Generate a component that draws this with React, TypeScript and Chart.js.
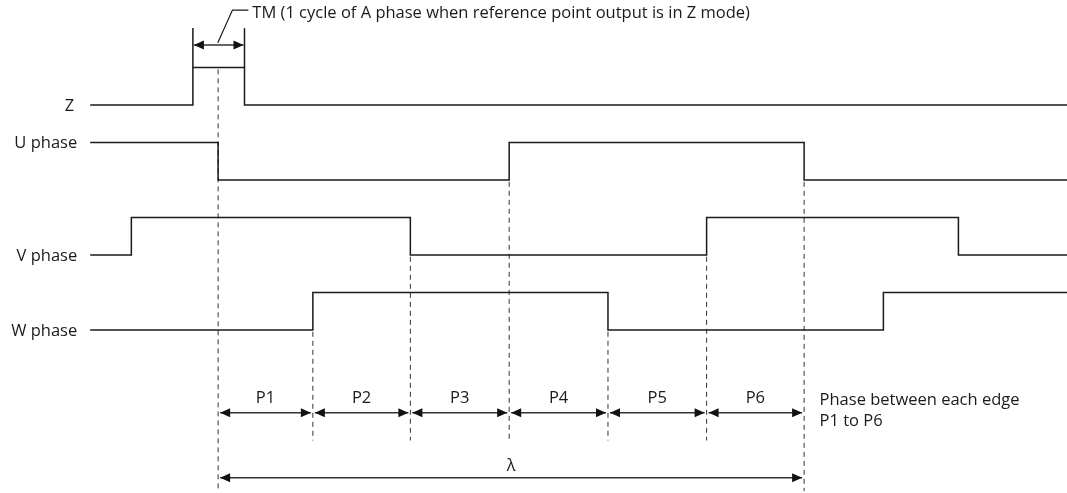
import React, { useEffect, useRef } from "react";
import { Chart, registerables } from "chart.js";
Chart.register(...registerables);

// Axis bounds (x in electrical degrees, y in signal level units)
const X_MIN = -134;
const X_MAX = 521.5;
const Y_MIN = -4.35;
const Y_MAX = 8.8;

// Signals
const signalNames = ["Z", "U phase", "V phase", "W phase"];
const signalBase = [6, 4, 2, 0];
const signalStart = [0, 1, 0, 0];
const signalEdges = [
  [-15.5, 16.2],
  [0, 178.8, 360],
  [-53.3, 118.1, 300.1, 454.8],
  [58.2, 239.5, 408.7],
];
const labelLevel = [6, 5, 2, 0];
const labelGap = [16, 13, 13, 13];
const SIGNAL_FROM = -78.6;
const SIGNAL_TO = 521.5;

// Edge reference (dashed) lines
const edgeX = [0, 58.2, 118.1, 178.8, 239.5, 300.1, 360];
const edgeTop = [6.95, -0.05, 1.95, 3.95, -0.05, 1.95, 3.95];
const edgeBottom = [-4.3, -2.95, -2.95, -2.95, -2.95, -2.95, -4.3];

// Phase arrows
const phaseLabels = ["P1", "P2", "P3", "P4", "P5", "P6"];
const PHASE_ROW = -2.21;
const PHASE_LABEL_ROW = -1.83;
const LAMBDA_ROW = -3.94;
const LAMBDA_LABEL_ROW = -3.63;
const lambdaFrom = 0;
const lambdaTo = 360;
const noteLines = ["Phase between each edge", "P1 to P6"];
const noteX = 369.5;
const noteRows = [-1.87, -2.45];

// TM annotation
const tmEdges = [-15.5, 16.2];
const TM_TOP = 8.05;
const TM_ARROW_ROW = 7.6;
const tmLeader = [
  { x: -0.2, y: 7.66 },
  { x: 8.8, y: 8.53 },
  { x: 18.6, y: 8.53 },
];
const tmText = "TM (1 cycle of A phase when reference point output is in Z mode)";
const TM_TEXT_X = 21.0;
const TM_TEXT_ROW = 8.45;

const FONT = '16.5px "Open Sans"';
const INK = "#1a1a1a";

export default function App() {
  const ref = useRef<HTMLCanvasElement>(null);
  useEffect(() => {
    const datasets: any[] = [];
    signalNames.forEach((name, i) => {
      const base = signalBase[i];
      let level = signalStart[i];
      const pts: { x: number; y: number }[] = [{ x: SIGNAL_FROM, y: base + level }];
      for (const e of signalEdges[i]) {
        pts.push({ x: e, y: base + level });
        level = 1 - level;
        pts.push({ x: e, y: base + level });
      }
      pts.push({ x: SIGNAL_TO, y: base + level });
      datasets.push({
        label: name,
        data: pts,
        borderColor: INK,
        borderWidth: 1.5,
        pointRadius: 0,
        tension: 0,
        fill: false,
      });
    });
    edgeX.forEach((x, i) => {
      datasets.push({
        label: "edge" + i,
        data: [
          { x, y: edgeTop[i] },
          { x, y: edgeBottom[i] },
        ],
        borderColor: "#333",
        borderWidth: 1,
        borderDash: [5, 4],
        pointRadius: 0,
        fill: false,
      });
    });
    tmEdges.forEach((x, i) => {
      datasets.push({
        label: "tm" + i,
        data: [
          { x, y: 7 },
          { x, y: TM_TOP },
        ],
        borderColor: INK,
        borderWidth: 1.5,
        pointRadius: 0,
        fill: false,
      });
    });
    datasets.push({
      label: "leader",
      data: tmLeader,
      borderColor: INK,
      borderWidth: 1.2,
      pointRadius: 0,
      fill: false,
    });

    const annot = {
      id: "annot",
      afterDatasetsDraw(chart: any) {
        const ctx = chart.ctx as CanvasRenderingContext2D;
        const xs = chart.scales.x;
        const ys = chart.scales.y;
        const px = (v: number) => xs.getPixelForValue(v);
        const py = (v: number) => ys.getPixelForValue(v);
        const head = (x: number, y: number, dir: number) => {
          ctx.beginPath();
          ctx.moveTo(x, y);
          ctx.lineTo(x - dir * 10, y - 4.5);
          ctx.lineTo(x - dir * 10, y + 4.5);
          ctx.closePath();
          ctx.fill();
        };
        const arrow = (x1: number, x2: number, y: number, gap: number) => {
          const a = x1 + gap;
          const b = x2 - gap;
          ctx.beginPath();
          ctx.moveTo(a, y);
          ctx.lineTo(b, y);
          ctx.stroke();
          head(a, y, -1);
          head(b, y, 1);
        };
        ctx.save();
        ctx.strokeStyle = "#333";
        ctx.fillStyle = "#111";
        ctx.lineWidth = 1.5;
        for (let i = 0; i < edgeX.length - 1; i++) {
          arrow(px(edgeX[i]), px(edgeX[i + 1]), py(PHASE_ROW), 2);
        }
        arrow(px(lambdaFrom), px(lambdaTo), py(LAMBDA_ROW), 2);
        arrow(px(tmEdges[0]), px(tmEdges[1]), py(TM_ARROW_ROW), 1);

        ctx.fillStyle = INK;
        ctx.font = FONT;
        ctx.textBaseline = "middle";
        ctx.textAlign = "right";
        signalNames.forEach((n, i) => {
          ctx.fillText(n, px(SIGNAL_FROM) - labelGap[i], py(labelLevel[i]) + 1);
        });
        ctx.textAlign = "center";
        phaseLabels.forEach((p, i) => {
          ctx.fillText(p, (px(edgeX[i]) + px(edgeX[i + 1])) / 2, py(PHASE_LABEL_ROW));
        });
        ctx.fillText("λ", (px(lambdaFrom) + px(lambdaTo)) / 2, py(LAMBDA_LABEL_ROW));
        ctx.textAlign = "left";
        noteLines.forEach((t, i) => ctx.fillText(t, px(noteX), py(noteRows[i])));
        ctx.fillText(tmText, px(TM_TEXT_X), py(TM_TEXT_ROW));
        ctx.restore();
      },
    };

    const chart = new Chart(ref.current!, {
      type: "line",
      data: { datasets },
      options: {
        animation: false,
        responsive: true,
        maintainAspectRatio: false,
        layout: { padding: 0 },
        plugins: { legend: { display: false }, tooltip: { enabled: false } },
        events: [],
        scales: {
          x: { type: "linear", min: X_MIN, max: X_MAX, display: false },
          y: { type: "linear", min: Y_MIN, max: Y_MAX, display: false },
        },
      },
      plugins: [annot],
    });
    return () => chart.destroy();
  }, []);
  return (
    <div style={{ position: "fixed", left: 0, top: 0, width: 1067, height: 493, background: "#fff" }}>
      <canvas ref={ref} />
    </div>
  );
}
